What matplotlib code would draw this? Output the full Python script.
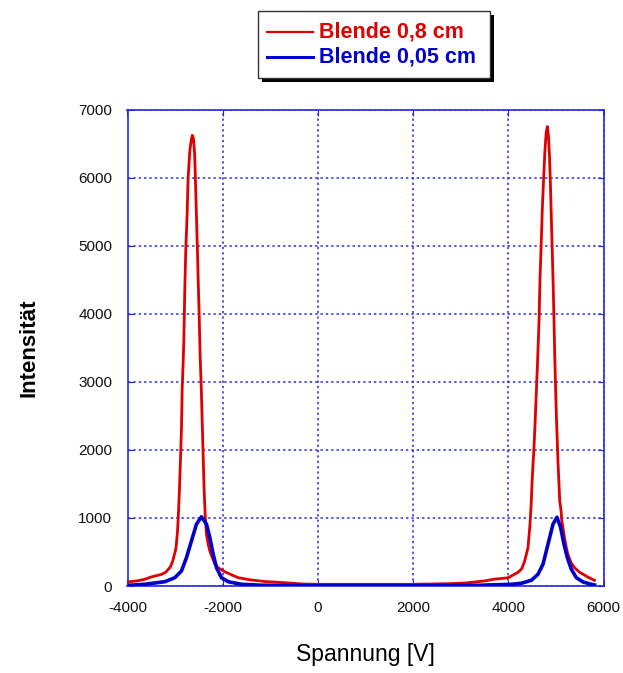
import matplotlib
matplotlib.use("Agg")
import matplotlib.pyplot as plt
from matplotlib.lines import Line2D
from matplotlib.patches import Rectangle

plt.rcParams['font.family'] = ['Liberation Sans', 'DejaVu Sans']
plt.rcParams['axes.unicode_minus'] = False

# ---- data ----
red_x = [-4000, -3800, -3640, -3500, -3290, -3200, -3100, -3050, -3000, -2980, -2950,
         -2937, -2910, -2885, -2866, -2851, -2830, -2817, -2798, -2777, -2748, -2726,
         -2690, -2660, -2640, -2615, -2590, -2570, -2550, -2530, -2515, -2495, -2475,
         -2450, -2430, -2410, -2390, -2365, -2340, -2300, -2271, -2220, -2167, -2100,
         -1957, -1800, -1675, -1500, -1400, -1100, -700, -340, 0, 1000, 2000, 2800,
         3100, 3500, 3700, 3917, 4000, 4200, 4280, 4344, 4414, 4456, 4480, 4498, 4520,
         4540, 4560, 4576, 4595, 4615, 4646, 4665, 4690, 4715, 4743, 4770, 4795, 4820,
         4845, 4866, 4885, 4900, 4920, 4940, 4960, 4975, 4990, 5010, 5030, 5045, 5065,
         5080, 5110, 5120, 5150, 5180, 5220, 5251, 5320, 5390, 5500, 5600, 5700, 5810]
red_y = [60, 75, 98, 133, 170, 200, 280, 368, 500, 564, 800,
         958, 1400, 1900, 2333, 2900, 3300, 3600, 4298, 4912, 5452, 6000,
         6400, 6550, 6620, 6580, 6350, 5900, 5400, 4900, 4500, 4000, 3400,
         2900, 2400, 1900, 1400, 1000, 750, 600, 516, 420, 324, 270,
         210, 160, 122, 100, 88, 65, 49, 30, 25, 25, 25, 35,
         45, 74, 100, 115, 122, 200, 250, 368, 564, 909, 1200, 1500, 1800,
         2038, 2350, 2627, 2950, 3300, 3900, 4500, 5000, 5550, 6000, 6400, 6650, 6750,
         6600, 6300, 5900, 5500, 5000, 4500, 3900, 3400, 3000, 2500, 2100, 1800, 1500,
         1250, 1100, 980, 850, 712, 560, 467, 340, 270, 200, 162, 120, 84]

blue_x = [-4000, -3640, -3216, -3006, -2866, -2761, -2656, -2551, -2446, -2341, -2271,
          -2200, -2131, -2026, -1885, -1606, -1200, -800, 0, 2000, 3000, 3434, 4064,
          4274, 4484, 4624, 4729, 4799, 4869, 4939, 5023, 5099, 5170, 5240, 5324, 5429,
          5569, 5744, 5810]
blue_y = [10, 25, 63, 122, 221, 417, 663, 909, 1017, 909, 712,
          467, 270, 122, 63, 25, 12, 8, 5, 5, 8, 12, 25,
          40, 84, 172, 320, 516, 712, 909, 1010, 859, 614, 417, 246, 122,
          59, 25, 15]

x_ticks = [-4000, -2000, 0, 2000, 4000, 6000]
y_ticks = [0, 1000, 2000, 3000, 4000, 5000, 6000, 7000]
labels = ["Blende 0,8 cm", "Blende 0,05 cm"]

RED = '#E00000'
BLUE = '#0000CC'
GRID = '#2626E0'

W, H = 623, 673
fig = plt.figure(figsize=(W / 100, H / 100), dpi=100)

def fx(px):
    return px / W

def fy(py):
    return 1 - py / H

L, R, T, B = 127.5, 603.5, 109.5, 586
ax = fig.add_axes([fx(L), fy(B), fx(R) - fx(L), fy(T) - fy(B)])

ax.plot(red_x, red_y, color=RED, lw=2.0, zorder=3)
ax.plot(blue_x, blue_y, color=BLUE, lw=2.6, zorder=4)

ax.set_xlim(-4000, 6000)
ax.set_ylim(0, 7000)
ax.set_xticks(x_ticks)
ax.set_yticks(y_ticks)
ax.grid(True, color=GRID, linestyle=(0, (1.5, 2.0)), lw=1.1)
for s in ax.spines.values():
    s.set_color(GRID)
    s.set_linewidth(1.2)
ax.tick_params(direction='in', length=4, color=GRID, labelsize=11,
               labelcolor='#111111', top=True, right=True)
ax.tick_params(axis='x', pad=11)
ax.tick_params(axis='y', pad=11)

ax.set_xlabel("Spannung [V]", fontsize=16.5, labelpad=20)
ax.set_ylabel("Intensität", fontsize=16, fontweight='bold', labelpad=28)

# legend box (manual) with shadow
bx0, by0, bx1, by1 = 258, 11, 490, 78
fig.add_artist(Rectangle((fx(bx0 + 4), fy(by1 + 4)), fx(bx1 - bx0), fy(by0) - fy(by1),
                         transform=fig.transFigure, facecolor='black', edgecolor='none'))
fig.add_artist(Rectangle((fx(bx0), fy(by1)), fx(bx1 - bx0), fy(by0) - fy(by1),
                         transform=fig.transFigure, facecolor='white',
                         edgecolor='#333333', lw=1.0))
for i, (lab, col, lw) in enumerate(zip(labels, [RED, BLUE], [1.6, 2.2])):
    yy = 32 + i * 25
    fig.add_artist(Line2D([fx(267), fx(313)], [fy(yy), fy(yy)], transform=fig.transFigure,
                          color=col, lw=lw))
    fig.text(fx(319), fy(yy), lab, color=col, fontsize=15.5, fontweight='bold',
             va='center', ha='left')

fig.savefig("out.png", dpi=100)
